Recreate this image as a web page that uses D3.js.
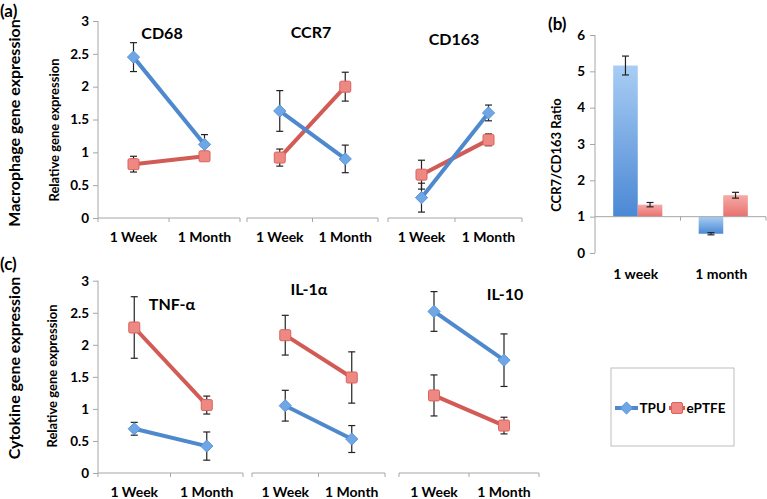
<!DOCTYPE html>
<html><head><meta charset="utf-8">
<script src="https://cdn.jsdelivr.net/npm/d3@7"></script>
<style>
body{margin:0;background:#fff;}
svg{display:block;font-family:Lato,"Open Sans",sans-serif;font-weight:700;}
</style></head>
<body><svg id="chart" width="767" height="499"></svg>
<script>
// ---- data ----
const timepoints = ["1 Week", "1 Month"];
const macroGenes = ["CD68", "CCR7", "CD163"];
const macroTPU = [[2.45, 1.12], [1.63, 0.90], [0.31, 1.60]];
const macroTPUerr = [[0.22, 0.15], [0.31, 0.21], [0.22, 0.12]];
const macroPTFE = [[0.82, 0.94], [0.92, 2.00], [0.66, 1.19]];
const macroPTFEerr = [[0.12, 0.05], [0.13, 0.22], [0.22, 0.09]];
const cytoGenes = ["TNF-α", "IL-1α", "IL-10"];
const cytoTPU = [[0.69, 0.42], [1.05, 0.53], [2.52, 1.76]];
const cytoTPUerr = [[0.10, 0.22], [0.24, 0.21], [0.31, 0.41]];
const cytoPTFE = [[2.27, 1.06], [2.15, 1.49], [1.21, 0.74]];
const cytoPTFEerr = [[0.48, 0.14], [0.31, 0.40], [0.32, 0.13]];
const ratioCats = ["1 week", "1 month"];
const ratioTPU = [5.16, 0.53];
const ratioTPUerr = [0.26, 0.03];
const ratioPTFE = [1.33, 1.59];
const ratioPTFEerr = [0.06, 0.08];
const seriesNames = ["TPU", "ePTFE"];
const geneTicks = [0, 0.5, 1, 1.5, 2, 2.5, 3];
const ratioTicks = [0, 1, 2, 3, 4, 5, 6];

// ---- styles ----
const C = {
  TPU: {line: "#4f89cd", fill: "#6fa7e6", stroke: "#5a94d6"},
  ePTFE: {line: "#d35b56", fill: "#ee8883", stroke: "#d9625d"}
};
const axisColor = "#a6a6a6";
const svg = d3.select("#chart");
const defs = svg.append("defs");
function grad(id, c1, c2) {
  const g = defs.append("linearGradient").attr("id", id).attr("x1", 0).attr("y1", 0).attr("x2", 0).attr("y2", 1);
  g.append("stop").attr("offset", "0%").attr("stop-color", c1);
  g.append("stop").attr("offset", "100%").attr("stop-color", c2);
}
grad("gTPU", "#a9cdf4", "#4b88d4");
grad("gPTFE", "#f6aaa7", "#e7716d");

const diamond = d3.symbol().type(d3.symbolDiamond2).size(95);

function marker(g, name, x, y) {
  if (name === "TPU") {
    g.append("path").attr("d", diamond).attr("transform", `translate(${x},${y})`)
      .attr("fill", C.TPU.fill).attr("stroke", C.TPU.stroke).attr("stroke-width", 1);
  } else {
    g.append("rect").attr("x", x - 5.5).attr("y", y - 5.5).attr("width", 11).attr("height", 11)
      .attr("rx", 1.5).attr("fill", C.ePTFE.fill).attr("stroke", C.ePTFE.stroke).attr("stroke-width", 1);
  }
}
function errBar(g, x, yTop, yBot) {
  g.append("line").attr("x1", x).attr("x2", x).attr("y1", yTop).attr("y2", yBot).attr("stroke", "#222").attr("stroke-width", 1.2);
  g.append("line").attr("x1", x - 3.5).attr("x2", x + 3.5).attr("y1", yTop).attr("y2", yTop).attr("stroke", "#222").attr("stroke-width", 1.2);
  g.append("line").attr("x1", x - 3.5).attr("x2", x + 3.5).attr("y1", yBot).attr("y2", yBot).attr("stroke", "#222").attr("stroke-width", 1.2);
}

function linePanel(cfg) {
  const y = d3.scaleLinear().domain([0, 3]).range([cfg.y0, cfg.y1]);
  const yAx = svg.append("g").attr("transform", `translate(${cfg.xs[0][0]},0)`)
    .call(d3.axisLeft(y).tickValues(geneTicks).tickSize(5).tickPadding(4).tickFormat(d => String(d)));
  yAx.selectAll("path,line").attr("stroke", axisColor);
  yAx.select(".domain").attr("d", `M0,${cfg.y0}V${cfg.y1}`);
  yAx.selectAll("text").attr("font-size", 13.5).attr("font-family", "Lato").attr("font-weight", 700).attr("fill", "#000");

  cfg.genes.forEach((gene, i) => {
    const [a, b] = cfg.xs[i];
    const band = d3.scaleBand().domain(timepoints).range([a, b]);
    const x = d3.scalePoint().domain(timepoints).range([a, b]).padding(0.5);
    const g = svg.append("g");
    g.append("line").attr("x1", a).attr("x2", b).attr("y1", cfg.y0).attr("y2", cfg.y0).attr("stroke", axisColor);
    [a, ...timepoints.slice(1).map(t => band(t)), b].forEach(px => {
      g.append("line").attr("x1", px).attr("x2", px).attr("y1", cfg.y0).attr("y2", cfg.y0 + 4).attr("stroke", axisColor);
    });
    timepoints.forEach(t => {
      g.append("text").attr("x", x(t)).attr("y", cfg.labelY).attr("text-anchor", "middle")
        .attr("font-size", 14).text(t);
    });
    g.append("text").attr("x", cfg.titles[i][0]).attr("y", cfg.titles[i][1]).attr("text-anchor", "middle")
      .attr("font-size", 16).text(gene);
    const sets = [["TPU", cfg.tpu[i], cfg.tpuErr[i]], ["ePTFE", cfg.ptfe[i], cfg.ptfeErr[i]]];
    const order = cfg.drawOrder;
    order.forEach(si => {
      const [name, vals] = sets[si];
      const line = d3.line().x((d, k) => x(timepoints[k])).y(d => y(d));
      g.append("path").attr("d", line(vals)).attr("fill", "none").attr("stroke", C[name].line).attr("stroke-width", 4);
    });
    order.forEach(si => {
      const [name, vals, errs] = sets[si];
      vals.forEach((v, k) => errBar(g, x(timepoints[k]), y(v + errs[k]), y(v - errs[k])));
    });
    order.forEach(si => {
      const [name, vals] = sets[si];
      vals.forEach((v, k) => marker(g, name, x(timepoints[k]), y(v)));
    });
  });
  svg.append("text").attr("transform", `translate(${cfg.relX},${cfg.relY}) rotate(-90)`).attr("text-anchor", "middle")
    .attr("font-size", 13).text("Relative gene expression");
  svg.append("text").attr("transform", `translate(${cfg.bigX},${cfg.bigY}) rotate(-90)`).attr("text-anchor", "middle")
    .attr("font-size", 16).text(cfg.bigLabel);
  svg.append("text").attr("x", 0).attr("y", cfg.tagY).attr("font-size", 17).text(cfg.tag);
}

linePanel({
  genes: macroGenes, tpu: macroTPU, tpuErr: macroTPUerr, ptfe: macroPTFE, ptfeErr: macroPTFEerr,
  y0: 218, y1: 21, xs: [[98, 240], [247, 378], [388, 522]], labelY: 242,
  titles: [[162, 39], [311, 38], [454, 45]], drawOrder: [1, 0],
  relX: 59, relY: 130, bigX: 20, bigY: 123, bigLabel: "Macrophage gene expression", tag: "(a)", tagY: 17
});
linePanel({
  genes: cytoGenes, tpu: cytoTPU, tpuErr: cytoTPUerr, ptfe: cytoPTFE, ptfeErr: cytoPTFEerr,
  y0: 473, y1: 280.7, xs: [[98, 243], [252, 385], [399, 539]], labelY: 497,
  titles: [[172, 310], [309, 295], [505, 300]], drawOrder: [1, 0],
  relX: 57, relY: 376, bigX: 20, bigY: 368, bigLabel: "Cytokine gene expression", tag: "(c)", tagY: 270
});

// ---- panel (b) ----
(function () {
  const y = d3.scaleLinear().domain([0, 6]).range([253, 35]);
  const x0 = d3.scaleBand().domain(ratioCats).range([595, 766]);
  const x1 = d3.scaleBand().domain(seriesNames).range([0, x0.bandwidth()]).paddingInner(0).paddingOuter(0.74);
  const g = svg.append("g");
  const yAx = g.append("g").attr("transform", "translate(595,0)")
    .call(d3.axisLeft(y).tickValues(ratioTicks).tickSize(5).tickPadding(5).tickFormat(d => String(d)));
  yAx.selectAll("path,line").attr("stroke", axisColor);
  yAx.select(".domain").attr("d", `M0,${y(0)}V${y(6)}`);
  yAx.selectAll("text").attr("font-size", 13.5).attr("font-family", "Lato").attr("font-weight", 700).attr("fill", "#000");
  const base = y(1);
  const data = [["TPU", ratioTPU, ratioTPUerr, "url(#gTPU)"], ["ePTFE", ratioPTFE, ratioPTFEerr, "url(#gPTFE)"]];
  data.forEach(([name, vals, errs, fill]) => {
    vals.forEach((v, k) => {
      const xx = x0(ratioCats[k]) + x1(name);
      g.append("rect").attr("x", xx).attr("width", x1.bandwidth())
        .attr("y", Math.min(y(v), base)).attr("height", Math.abs(y(v) - base)).attr("fill", fill);
    });
  });
  g.append("line").attr("x1", 595).attr("x2", 766).attr("y1", base).attr("y2", base).attr("stroke", axisColor);
  [x0(ratioCats[1]), 766].forEach(px => g.append("line").attr("x1", px).attr("x2", px).attr("y1", base).attr("y2", base + 4).attr("stroke", axisColor));
  data.forEach(([name, vals, errs]) => {
    vals.forEach((v, k) => {
      const xx = x0(ratioCats[k]) + x1(name) + x1.bandwidth() / 2;
      errBar(g, xx, y(v + errs[k]), y(v - errs[k]));
    });
  });
  ratioCats.forEach(c => g.append("text").attr("x", x0(c) + x0.bandwidth() / 2 - 2).attr("y", 279)
    .attr("text-anchor", "middle").attr("font-size", 14).text(c));
  g.append("text").attr("transform", "translate(561,155) rotate(-90)").attr("text-anchor", "middle")
    .attr("font-size", 13).text("CCR7/CD163 Ratio");
  g.append("text").attr("x", 548).attr("y", 30).attr("font-size", 17).text("(b)");
})();

// ---- legend ----
(function () {
  const g = svg.append("g");
  g.append("rect").attr("x", 611).attr("y", 368).attr("width", 123).attr("height", 78)
    .attr("fill", "#fff").attr("stroke", "#bdbdbd");
  const ly = 408;
  const items = [["TPU", 615, 638], ["ePTFE", 669, 685]];
  items.forEach(([name, a, b]) => {
    g.append("line").attr("x1", a).attr("x2", b).attr("y1", ly).attr("y2", ly).attr("stroke", C[name].line).attr("stroke-width", 4);
    marker(g, name, (a + b) / 2, ly);
    g.append("text").attr("x", b + 1.5).attr("y", ly + 5).attr("font-size", 13.5).text(name);
  });
})();
</script></body></html>
